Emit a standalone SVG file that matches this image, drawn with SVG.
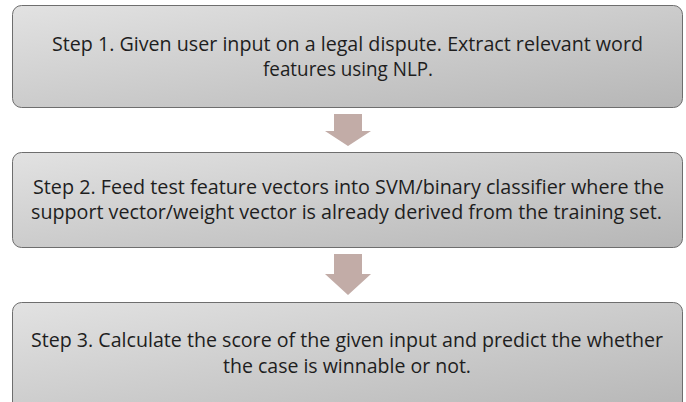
<svg xmlns="http://www.w3.org/2000/svg" width="686" height="402" viewBox="0 0 686 402">
  <defs>
    <linearGradient id="boxFill" x1="0" y1="0" x2="1" y2="1">
      <stop offset="0" stop-color="#e2e2e2"/>
      <stop offset="1" stop-color="#b6b6b6"/>
    </linearGradient>
    <style>
      .box { fill: url(#boxFill); stroke: #6e6e6e; stroke-width: 1; }
      .label { font-family: "Open Sans", "Liberation Sans", sans-serif; font-size: 20px; fill: #1e1e1e; text-anchor: middle; }
      .arrow { fill: #c2aca7; }
    </style>
  </defs>

  <g id="step1">
    <rect class="box" x="12.5" y="5.5" width="670" height="102" rx="9"/>
    <text class="label" x="347.5" y="51" textLength="591" lengthAdjust="spacingAndGlyphs">Step 1. Given user input on a legal dispute. Extract relevant word</text>
    <text class="label" x="348" y="76" textLength="170" lengthAdjust="spacingAndGlyphs">features using NLP.</text>
  </g>

  <g id="step2">
    <rect class="box" x="12.5" y="152.5" width="670" height="95" rx="9"/>
    <text class="label" x="348.5" y="194" textLength="631" lengthAdjust="spacingAndGlyphs">Step 2. Feed test feature vectors into SVM/binary classifier where the</text>
    <text class="label" x="346.5" y="219" textLength="631" lengthAdjust="spacingAndGlyphs">support vector/weight vector is already derived from the training set.</text>
  </g>

  <g id="step3">
    <rect class="box" x="12.5" y="302.5" width="670" height="110" rx="9"/>
    <text class="label" x="347" y="347" textLength="632" lengthAdjust="spacingAndGlyphs">Step 3. Calculate the score of the given input and predict the whether</text>
    <text class="label" x="347" y="373" textLength="248" lengthAdjust="spacingAndGlyphs">the case is winnable or not.</text>
  </g>

  <g id="connectors">
    <polygon class="arrow" points="334,114 362,114 362,131 371,131 348,146 325,131 334,131"/>
    <polygon class="arrow" points="334,254 362,254 362,274 371,274 348,295 325,274 334,274"/>
  </g>
</svg>
